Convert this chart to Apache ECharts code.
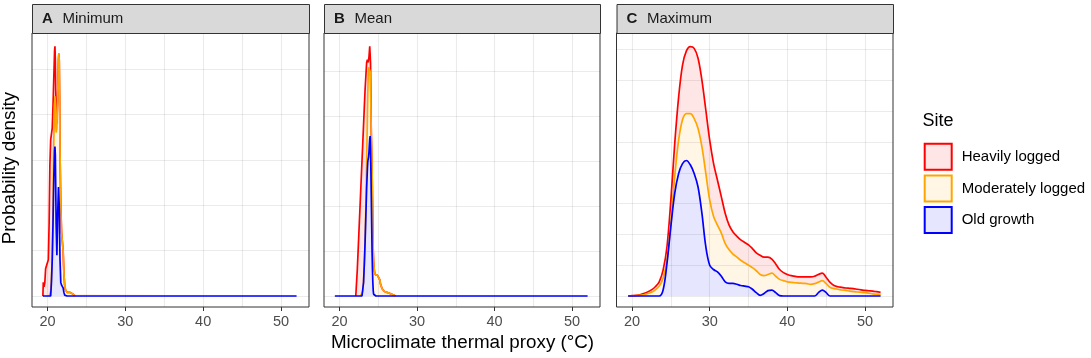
<!DOCTYPE html>
<html>
<head>
<meta charset="utf-8">
<script src="https://cdn.jsdelivr.net/npm/echarts@6/dist/echarts.min.js"></script>
<style>
html, body { margin: 0; padding: 0; background: #ffffff; }
#chart { width: 1091px; height: 358px; }
</style>
</head>
<body>
<div id="chart"></div>
<script>
// ---------------- DATA ----------------
const siteNames = ['Heavily logged', 'Moderately logged', 'Old growth'];
const panelLetters = ['A', 'B', 'C'];
const panelNames = ['Minimum', 'Mean', 'Maximum'];
const xTickLabels = [20, 30, 40, 50];
const xGridBreaks = [20, 25, 30, 35, 40, 45, 50];
const yGridBreaksA = [0, 0.5, 1, 1.5, 2, 2.5];
const yGridBreaksB = [0, 0.5, 1, 1.5, 2, 2.5];
const yGridBreaksC = [0, 0.05, 0.1, 0.15, 0.2, 0.25, 0.3, 0.35, 0.4];
const xAxisTitle = 'Microclimate thermal proxy (°C)';
const yAxisTitle = 'Probability density';
const legendTitle = 'Site';

// Panel A (Minimum): stacked density tops (heavily = total, moderately = moderately + old, old = old)
const tempA = [19.4, 19.45, 19.55, 19.65, 19.75, 19.85, 20.0, 20.1, 20.2, 20.3, 20.4, 20.5, 20.6, 20.7, 20.8, 20.9, 20.95, 21.0, 21.05, 21.1, 21.2, 21.3, 21.4, 21.45, 21.5, 21.55, 21.6, 21.7, 21.8, 21.9, 22.0, 22.1, 22.2, 22.3, 22.5, 22.7, 22.9, 23.1, 23.3, 23.5, 52.0];
const heavyTopA = [0, 0.15, 0.10, 0.15, 0.30, 0.33, 0.34, 0.40, 0.80, 1.45, 1.72, 1.72, 1.85, 2.10, 2.40, 2.70, 2.75, 2.60, 2.25, 2.00, 1.90, 2.20, 2.60, 2.67, 2.60, 2.20, 1.60, 1.00, 0.70, 0.68, 0.50, 0.25, 0.12, 0.07, 0.04, 0.03, 0.04, 0.03, 0.02, 0, 0];
const moderateTopA = [0, 0, 0, 0, 0, 0, 0, 0, 0, 0.02, 0.05, 0.20, 0.40, 1.00, 1.70, 2.10, 2.20, 2.10, 1.90, 1.80, 1.85, 2.20, 2.60, 2.67, 2.60, 2.20, 1.60, 1.00, 0.70, 0.68, 0.50, 0.25, 0.12, 0.07, 0.04, 0.03, 0.04, 0.03, 0.02, 0, 0];
const oldTopA = [0, 0, 0, 0, 0, 0, 0, 0, 0, 0, 0, 0.15, 0.40, 0.80, 1.30, 1.60, 1.645, 1.55, 1.20, 0.80, 0.45, 0.90, 1.20, 1.22, 1.00, 0.70, 0.40, 0.15, 0.12, 0.10, 0.09, 0.04, 0.01, 0, 0, 0, 0, 0, 0, 0, 0];

// Panel B (Mean)
const tempB = [19.4, 22.1, 22.3, 22.5, 22.7, 22.9, 23.0, 23.1, 23.2, 23.3, 23.4, 23.5, 23.6, 23.65, 23.7, 23.75, 23.8, 23.85, 23.9, 23.95, 24.0, 24.05, 24.1, 24.15, 24.2, 24.25, 24.3, 24.35, 24.4, 24.5, 24.6, 24.7, 24.8, 24.9, 25.0, 25.1, 25.2, 25.3, 25.5, 25.8, 26.0, 26.3, 26.6, 27.0, 27.2, 52.0];
const heavyTopB = [0, 0, 0.30, 0.70, 1.10, 1.50, 1.70, 1.90, 2.10, 2.30, 2.45, 2.60, 2.63, 2.62, 2.60, 2.62, 2.66, 2.72, 2.78, 2.80, 2.60, 2.20, 1.80, 1.60, 1.40, 1.10, 0.80, 0.50, 0.38, 0.28, 0.24, 0.23, 0.22, 0.23, 0.24, 0.23, 0.18, 0.13, 0.08, 0.05, 0.045, 0.035, 0.025, 0.01, 0, 0];
const moderateTopB = [0, 0, 0, 0, 0, 0.02, 0.05, 0.15, 0.35, 0.60, 1.00, 1.50, 2.00, 2.25, 2.45, 2.55, 2.57, 2.57, 2.55, 2.50, 2.30, 2.10, 1.80, 1.60, 1.40, 1.10, 0.80, 0.50, 0.38, 0.28, 0.24, 0.23, 0.22, 0.23, 0.24, 0.23, 0.18, 0.13, 0.08, 0.05, 0.045, 0.035, 0.025, 0.01, 0, 0];
const oldTopB = [0, 0, 0, 0, 0, 0, 0, 0.15, 0.35, 0.60, 0.90, 1.20, 1.42, 1.50, 1.52, 1.55, 1.60, 1.68, 1.75, 1.78, 1.65, 1.40, 1.10, 0.80, 0.50, 0.30, 0.15, 0.06, 0.02, 0, 0, 0, 0, 0, 0, 0, 0, 0, 0, 0, 0, 0, 0, 0, 0, 0];

// Panel C (Maximum)
const tempC = [19.5, 20, 20.5, 21, 21.5, 22, 22.5, 23, 23.5, 24, 24.5, 25, 25.5, 26, 26.5, 27, 27.5, 28, 28.5, 29, 29.5, 30, 30.5, 31, 31.5, 32, 32.5, 33, 33.5, 34, 34.5, 35, 35.5, 36, 36.5, 37, 37.5, 38, 38.5, 39, 39.5, 40, 40.5, 41, 41.5, 42, 42.5, 43, 43.5, 44, 44.5, 45, 45.5, 46, 46.5, 47, 47.5, 48, 48.5, 49, 49.5, 50, 50.5, 51, 51.5, 52];
const heavyTopC = [0, 0.0005, 0.001, 0.002, 0.004, 0.0065, 0.010, 0.015, 0.023, 0.042, 0.080, 0.156, 0.248, 0.323, 0.375, 0.398, 0.405, 0.402, 0.386, 0.350, 0.302, 0.253, 0.215, 0.188, 0.161, 0.134, 0.115, 0.104, 0.097, 0.091, 0.087, 0.083, 0.077, 0.070, 0.066, 0.063, 0.063, 0.060, 0.052, 0.043, 0.038, 0.035, 0.033, 0.032, 0.031, 0.031, 0.031, 0.031, 0.032, 0.035, 0.037, 0.030, 0.022, 0.017, 0.015, 0.014, 0.013, 0.0125, 0.012, 0.011, 0.010, 0.009, 0.0085, 0.008, 0.007, 0.006];
const moderateTopC = [0, 0.0003, 0.0006, 0.001, 0.002, 0.004, 0.006, 0.010, 0.016, 0.029, 0.058, 0.118, 0.194, 0.253, 0.286, 0.296, 0.296, 0.288, 0.272, 0.242, 0.199, 0.156, 0.129, 0.115, 0.102, 0.085, 0.075, 0.068, 0.063, 0.058, 0.054, 0.050, 0.046, 0.041, 0.035, 0.033, 0.035, 0.037, 0.032, 0.027, 0.025, 0.023, 0.022, 0.0215, 0.021, 0.0205, 0.020, 0.019, 0.020, 0.0225, 0.025, 0.020, 0.014, 0.012, 0.011, 0.0097, 0.009, 0.008, 0.0072, 0.0065, 0.006, 0.0054, 0.0045, 0.0035, 0.0028, 0.002];
const oldTopC = [0, 0, 0, 0, 0, 0, 0, 0, 0, 0.0097, 0.053, 0.113, 0.167, 0.199, 0.215, 0.220, 0.213, 0.199, 0.177, 0.134, 0.080, 0.050, 0.043, 0.039, 0.032, 0.023, 0.0205, 0.0205, 0.019, 0.017, 0.016, 0.015, 0.011, 0.0054, 0.001, 0.004, 0.0087, 0.0097, 0.0054, 0.0005, 0, 0, 0, 0, 0, 0, 0, 0, 0, 0.0054, 0.0097, 0.0054, 0, 0, 0, 0, 0, 0, 0, 0, 0, 0, 0, 0, 0, 0];

// ---------------- STYLE / LAYOUT ----------------
const fontFamily = "'Liberation Sans', Arial, Helvetica, sans-serif";
const lineColors = ['#FF0000', '#FFA500', '#0000FF'];
const bandColors = ['#FFE6E6', '#FFF6E6', '#E6E6FF'];
const plotTop = 33, plotHeight = 274, stripTop = 4, stripHeight = 29;
const layout = [
  { left: 32, width: 277, yMin: -0.121, yMax: 2.8965, smooth: false },
  { left: 324, width: 276, yMin: -0.1225, yMax: 2.9285, smooth: false },
  { left: 616.5, width: 276.5, yMin: -0.01786, yMax: 0.427, smooth: 0.35 }
];
const panelData = [
  { temps: tempA, tops: [heavyTopA, moderateTopA, oldTopA], yBreaks: yGridBreaksA },
  { temps: tempB, tops: [heavyTopB, moderateTopB, oldTopB], yBreaks: yGridBreaksB },
  { temps: tempC, tops: [heavyTopC, moderateTopC, oldTopC], yBreaks: yGridBreaksC }
];

// Upper outlines: leave out flat zero runs, where they would only sit under the Old growth baseline
function outlinePoints(temps, vals, hideFlatZeros) {
  return temps.map((t, j) => {
    if (hideFlatZeros && vals[j] === 0) {
      const prevZero = j === 0 || vals[j - 1] === 0;
      const nextZero = j === vals.length - 1 || vals[j + 1] === 0;
      if (prevZero && nextZero) return [t, null];
    }
    return [t, vals[j]];
  });
}

const grids = [], xAxes = [], yAxes = [], series = [], graphics = [];

layout.forEach((L, i) => {
  const P = panelData[i];
  grids.push({
    left: L.left, top: plotTop, width: L.width, height: plotHeight,
    show: true, backgroundColor: '#ffffff', borderColor: '#333333', borderWidth: 1,
    containLabel: false, outerBoundsMode: 'none'
  });
  xAxes.push({
    type: 'value', gridIndex: i, min: 18, max: 53.6,
    axisLine: { show: false, onZero: false },
    axisTick: { show: true, length: 4, lineStyle: { color: '#333333', width: 1 }, customValues: xTickLabels },
    axisLabel: { show: true, customValues: xTickLabels, color: '#4D4D4D', fontSize: 14.5, fontFamily: fontFamily, margin: 7 },
    splitLine: { show: false }
  });
  yAxes.push({
    type: 'value', gridIndex: i, min: L.yMin, max: L.yMax,
    axisLine: { show: false, onZero: false }, axisTick: { show: false }, axisLabel: { show: false }, splitLine: { show: false }
  });

  // filled bands (drawn red -> orange -> blue, each covering the one below)
  P.tops.forEach((vals, k) => {
    series.push({
      type: 'line', name: siteNames[k], xAxisIndex: i, yAxisIndex: i,
      data: P.temps.map((t, j) => [t, vals[j]]),
      symbol: 'none', showSymbol: false, smooth: L.smooth, silent: true, animation: false,
      lineStyle: { width: 0, opacity: 0 },
      areaStyle: { color: bandColors[k], opacity: 1 },
      z: 2 + k
    });
  });

  // grid lines (above the opaque bands, below the outlines)
  series.push({
    type: 'line', xAxisIndex: i, yAxisIndex: i, data: [], silent: true, animation: false, z: 6,
    markLine: {
      silent: true, animation: false, symbol: ['none', 'none'],
      label: { show: false },
      lineStyle: { color: 'rgba(0,0,0,0.08)', width: 1.1, type: 'solid' },
      data: xGridBreaks.map(v => ({ xAxis: v })).concat(P.yBreaks.map(v => ({ yAxis: v })))
    }
  });

  // outlines (Old growth painted last, on top)
  P.tops.forEach((vals, k) => {
    series.push({
      type: 'line', name: siteNames[k], xAxisIndex: i, yAxisIndex: i,
      data: outlinePoints(P.temps, vals, k < 2),
      connectNulls: false,
      symbol: 'none', showSymbol: false, smooth: L.smooth, silent: true, animation: false,
      lineStyle: { width: 1.7, color: lineColors[k] },
      itemStyle: { color: lineColors[k] },
      z: 10 + k
    });
  });

  // facet strip
  graphics.push({
    type: 'rect', left: L.left, top: stripTop, z: 20,
    shape: { x: 0, y: 0, width: L.width, height: stripHeight },
    style: { fill: '#D9D9D9', stroke: '#333333', lineWidth: 1 }
  });
  graphics.push({
    type: 'text', x: L.left + 10, y: stripTop + stripHeight / 2 + 0.5, z: 21,
    style: { text: panelLetters[i], fill: '#1A1A1A', font: 'bold 15px ' + fontFamily, textAlign: 'left', textVerticalAlign: 'middle', align: 'left', verticalAlign: 'middle' }
  });
  graphics.push({
    type: 'text', x: L.left + 30.5, y: stripTop + stripHeight / 2 + 0.5, z: 21,
    style: { text: panelNames[i], fill: '#1A1A1A', font: '15px ' + fontFamily, textAlign: 'left', textVerticalAlign: 'middle', align: 'left', verticalAlign: 'middle' }
  });
});

// axis titles and legend title
graphics.push({
  type: 'text', x: 462.5, y: 342.5, z: 21,
  style: { text: xAxisTitle, fill: '#000000', font: '18.8px ' + fontFamily, textAlign: 'center', textVerticalAlign: 'middle', align: 'center', verticalAlign: 'middle' }
});
graphics.push({
  type: 'text', x: 10, y: 168, rotation: Math.PI / 2, z: 21,
  style: { text: yAxisTitle, fill: '#000000', font: '18.8px ' + fontFamily, textAlign: 'center', textVerticalAlign: 'middle', align: 'center', verticalAlign: 'middle' }
});
graphics.push({
  type: 'text', x: 922.5, y: 121, z: 21,
  style: { text: legendTitle, fill: '#000000', font: '18px ' + fontFamily, textAlign: 'left', textVerticalAlign: 'middle', align: 'left', verticalAlign: 'middle' }
});

const chart = echarts.init(document.getElementById('chart'), null, { renderer: 'canvas' });
chart.setOption({
  animation: false,
  backgroundColor: '#ffffff',
  textStyle: { fontFamily: fontFamily },
  grid: grids,
  xAxis: xAxes,
  yAxis: yAxes,
  series: series,
  legend: {
    orient: 'vertical', left: 923.7, top: 142.7, padding: 0,
    itemWidth: 27, itemHeight: 26, itemGap: 3.7,
    icon: 'rect', selectedMode: false,
    textStyle: { fontSize: 15, color: '#000000', fontFamily: fontFamily, padding: [0, 0, 0, 5] },
    data: siteNames.map((n, k) => ({
      name: n,
      itemStyle: { color: bandColors[k], borderColor: lineColors[k], borderWidth: 2 }
    }))
  },
  graphic: graphics
});
</script>
</body>
</html>
